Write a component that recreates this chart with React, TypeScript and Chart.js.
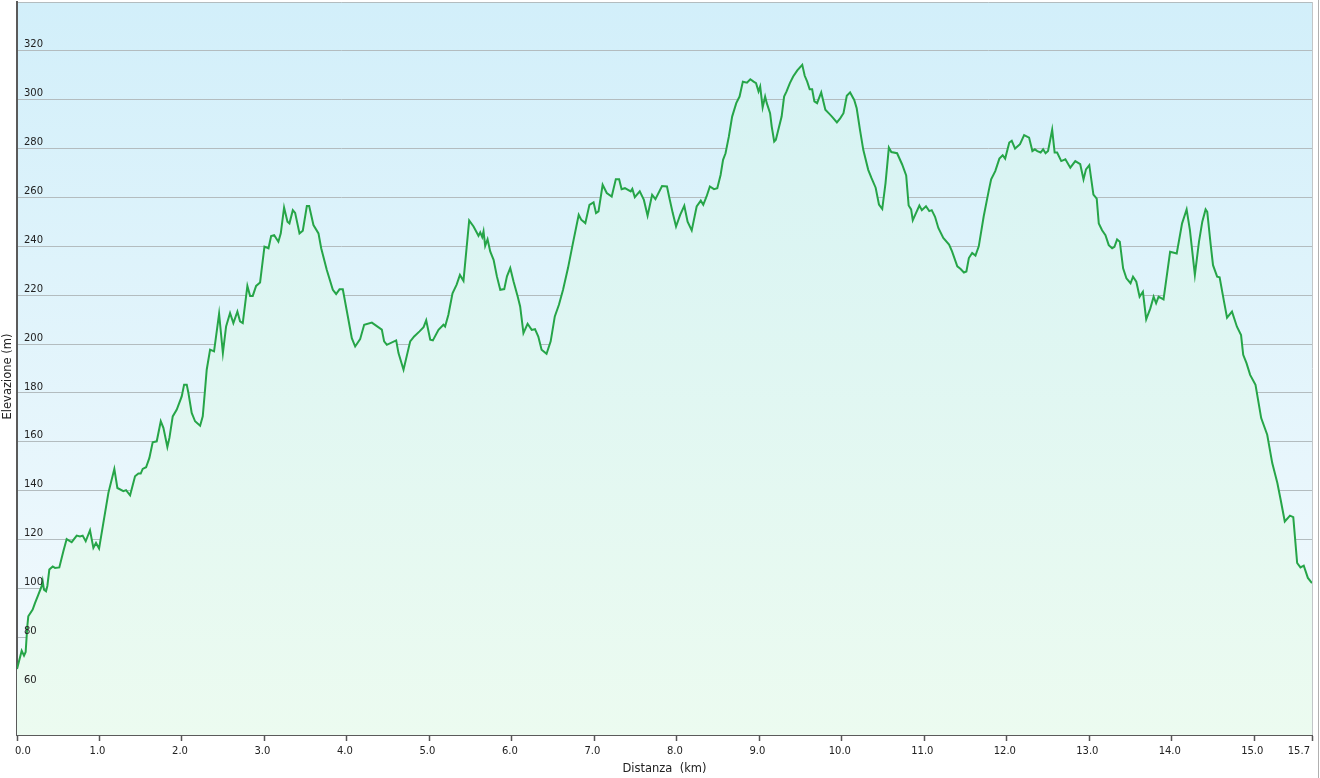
import React, { useEffect, useRef } from "react";
import { Chart, registerables } from "chart.js";

Chart.register(...registerables);

const distanceKm = [
  0, 0.057, 0.085, 0.105, 0.125, 0.137, 0.19, 0.218, 0.259, 0.299, 0.311, 0.327, 0.352, 0.368, 0.392, 0.433,
  0.461, 0.513, 0.562, 0.602, 0.663, 0.724, 0.764, 0.796, 0.833, 0.885, 0.926, 0.958, 0.995, 1.047, 1.108,
  1.18, 1.217, 1.29, 1.322, 1.371, 1.431, 1.472, 1.5, 1.524, 1.565, 1.605, 1.645, 1.694, 1.743, 1.775, 1.823,
  1.848, 1.888, 1.937, 1.997, 2.026, 2.058, 2.078, 2.118, 2.159, 2.22, 2.252, 2.28, 2.3,
  2.341, 2.389, 2.45, 2.496, 2.535, 2.583, 2.623, 2.672, 2.704, 2.737, 2.793, 2.826, 2.858, 2.899, 2.947,
  3.0, 3.049, 3.081, 3.118, 3.169, 3.198, 3.238, 3.279, 3.303, 3.344, 3.372, 3.425, 3.465, 3.514, 3.542,
  3.594, 3.655, 3.688, 3.756, 3.829, 3.869, 3.91, 3.95, 4.011, 4.059, 4.1, 4.16, 4.209, 4.302, 4.423, 4.451,
  4.484, 4.597, 4.625, 4.686, 4.767, 4.815, 4.88, 4.929, 4.961, 5.01, 5.042,
  5.11, 5.17, 5.19, 5.23, 5.28, 5.33, 5.37, 5.413, 5.482, 5.535, 5.595, 5.616, 5.64, 5.656, 5.676, 5.705,
  5.737, 5.778, 5.818, 5.859, 5.907, 5.94, 5.98, 6.02, 6.07, 6.1, 6.14, 6.19, 6.24, 6.28, 6.32, 6.36, 6.42,
  6.47, 6.52, 6.57, 6.62, 6.68, 6.74, 6.81, 6.84, 6.89, 6.94, 6.99, 7.02, 7.05, 7.1, 7.15, 7.21, 7.26, 7.3,
  7.33, 7.37, 7.44, 7.46, 7.49, 7.55, 7.6, 7.645, 7.7, 7.74,
  7.82, 7.88, 7.91, 7.95, 7.99, 8.04, 8.09, 8.13, 8.18, 8.24, 8.29, 8.32, 8.36, 8.4, 8.45, 8.49, 8.53, 8.56,
  8.59, 8.63, 8.67, 8.72, 8.76, 8.8, 8.85, 8.89, 8.93, 8.96, 8.99, 9.01, 9.04, 9.07, 9.09, 9.13, 9.15, 9.18,
  9.2, 9.23, 9.27, 9.3, 9.33, 9.37, 9.41, 9.46, 9.52, 9.55, 9.58, 9.61, 9.64, 9.667, 9.7, 9.75, 9.8, 9.84,
  9.88, 9.94, 9.98, 10.02, 10.06, 10.1, 10.15, 10.18, 10.22, 10.26, 10.32, 10.36,
  10.41, 10.45, 10.49, 10.53, 10.57, 10.6, 10.67, 10.73, 10.78, 10.81, 10.84, 10.86, 10.9, 10.94, 10.97,
  11.02, 11.06, 11.09, 11.13, 11.17, 11.23, 11.3, 11.335, 11.4, 11.44, 11.48, 11.51, 11.54, 11.58, 11.62,
  11.66, 11.72, 11.78, 11.81, 11.86, 11.91, 11.95, 11.98, 12.03, 12.06, 12.1, 12.16, 12.21, 12.27, 12.31,
  12.34, 12.37, 12.41, 12.44, 12.47, 12.5, 12.55, 12.58, 12.61, 12.66, 12.71, 12.77, 12.83, 12.89, 12.93,
  12.96, 13.0, 13.05, 13.09,
  13.115, 13.155, 13.196, 13.236, 13.277, 13.305, 13.337, 13.37, 13.41, 13.45, 13.5, 13.53, 13.57, 13.61,
  13.65, 13.69, 13.74, 13.78, 13.81, 13.84, 13.9, 13.98, 14.06, 14.125, 14.18, 14.22, 14.28, 14.33, 14.37,
  14.41, 14.43, 14.47, 14.5, 14.55, 14.58, 14.63, 14.67, 14.73, 14.79, 14.84, 14.866, 14.906, 14.95, 15.015,
  15.084, 15.157, 15.218, 15.28, 15.32, 15.37, 15.433, 15.473, 15.52, 15.56, 15.6, 15.65, 15.7,
];

const elevationM = [
  67, 74.5, 72.5, 74, 84.5, 88.6, 91.3, 94, 97.5, 100.9, 103, 99.5, 98.8, 101, 107.7, 109,
  108.4, 108.6, 115.2, 120.2, 118.9, 121.6, 121.3, 121.6, 119.3, 123.8, 116.6, 118.6, 116.3, 126.8, 139.1,
  148.9, 141.1, 139.8, 140.2, 138.1, 145.9, 147, 147, 148.9, 149.6, 153.4, 159.8, 160.2, 168.4, 165.7, 157.9,
  161.6, 170.4, 173.2, 178.6, 183.4, 183.4, 180, 171.8, 168.4, 166.6, 170.4, 181.4, 189.5,
  197.7, 197.0, 212.4, 196.3, 207.2, 212.7, 208.6, 213.3, 209.3, 208.6, 223.8, 219.7, 219.7, 223.8, 225.2,
  239.9, 239.2, 244.2, 244.6, 241.9, 245.3, 255.9, 250.1, 249.4, 254.8, 253.7, 245.3, 246.4, 256.5, 256.5,
  248.7, 245.3, 239.2, 230.3, 222.2, 220.5, 222.4, 222.4, 211.3, 202.4, 199.0, 202.0, 207.9, 208.8, 205.9, 201.1,
  199.7, 201.5, 196.3, 189.5, 201.1, 203.1, 205.2, 206.9, 209.7, 201.8, 201.5,
  205.8, 207.9, 207.2, 212.0, 220.8, 224.3, 228.3, 225.9, 250.6, 248.1, 244.3, 245.7, 243.8, 246.1, 240.2, 242.9,
  237.9, 234.5, 227.7, 222.2, 222.5, 227.7, 231.1, 225.6, 219.5, 215.4, 204.5, 208.3, 205.8, 206.1, 203.1, 197.7, 196.0,
  201.1, 211.3, 216.1, 222.2, 231.1, 241.3, 252.9, 250.9, 249.5, 257.0, 258.0, 253.6, 254.3, 265.2, 261.8, 260.4, 267.5, 267.5,
  263.4, 263.8, 262.5, 263.5, 260.1, 262.5, 259.0, 252.5, 261.1, 259.3,
  264.7, 264.5, 259.7, 253.6, 248.1, 252.9, 256.6, 250.1, 246.5, 256.3, 258.7, 257.0, 260.4, 264.5, 263.4, 263.8, 269.2, 275.4,
  278.1, 284.9, 293.1, 298.6, 301.3, 307.4, 307.0, 308.4, 307.4, 306.8, 303.4, 305.4, 296.9, 301.3, 298.6, 294.5, 289.0, 282.9,
  283.6, 287.7, 293.1, 301.3, 303.4, 306.8, 309.5, 312.0, 314.3, 309.8, 307.4, 304.3, 304.3, 299.3, 298.6, 303.0, 295.9, 294.5,
  293.1, 290.7, 292.4, 294.5, 301.6, 303.0, 299.9, 296.5, 287.7, 279.5, 271.3, 267.9,
  264.0, 257.1, 255.3, 266.0, 280.4, 278.6, 278.1, 273.6, 269.0, 256.7, 255.1, 250.7, 253.7, 256.7, 254.8,
  256.4, 254.4, 254.8, 252.1, 247.5, 243.4, 240.7, 238.0, 231.8, 230.7, 229.3, 229.7, 235.2, 237.3, 236.2,
  240.0, 252.3, 262.6, 267.4, 270.8, 275.9, 277.3, 275.9, 282.5, 283.2, 280.0, 281.8, 285.5, 284.5, 279.0,
  279.7, 279.0, 278.4, 279.7, 278.1, 279.0, 287.7, 278.4, 278.4, 274.9, 275.6, 272.2, 274.9, 273.6, 267.4,
  271.5, 273.2, 261.2, 259.5,
  249.4, 246.6, 244.6, 240.5, 239.2, 239.8, 242.8, 241.9, 231.0, 226.9, 224.9, 227.6, 225.5, 219.4,
  221.4, 210.1, 214.6, 219.4, 216.7, 219.4, 218.3, 237.8, 237.1, 249.4, 255.1, 246.6, 228.3, 241.9, 250.1,
  255.1, 254.1, 241.2, 232.3, 227.6, 227.3, 218.0, 210.8, 213.3, 207.1, 203.7, 195.6, 192.2, 187.4, 183.3,
  169.7, 162.9, 151.3, 143.1, 136.3, 127.4, 129.8, 129.2, 110.4, 108.6, 109.3, 104.3, 102.2,
];

const xTickValues = [0, 1, 2, 3, 4, 5, 6, 7, 8, 9, 10, 11, 12, 13, 14, 15, 15.7];
const yMin = 40;
const yMax = 340;
const yStep = 20;
const xTitle = "Distanza  (km)";
const yTitle = "Elevazione (m)";

const FAMILY = "'DejaVu Sans', Verdana, sans-serif";
const FONT = { family: FAMILY, size: 10 };
const TITLE_FONT = { family: FAMILY, size: 11.5 };

const bgPlugin = {
  id: "bgPlugin",
  beforeDraw(chart: any) {
    const { ctx, chartArea } = chart;
    if (!chartArea) return;
    const g = ctx.createLinearGradient(0, chartArea.top, 0, chartArea.bottom);
    g.addColorStop(0, "rgb(210,239,250)");
    g.addColorStop(1, "rgb(244,250,253)");
    ctx.save();
    ctx.fillStyle = g;
    ctx.fillRect(chartArea.left, chartArea.top, chartArea.right - chartArea.left, chartArea.bottom - chartArea.top);
    ctx.restore();
  },
  afterDraw(chart: any) {
    const { ctx, chartArea } = chart;
    ctx.save();
    ctx.strokeStyle = "#c2c6c8";
    ctx.lineWidth = 1;
    ctx.beginPath();
    ctx.moveTo(Math.round(chartArea.right) + 0.5, chartArea.top);
    ctx.lineTo(Math.round(chartArea.right) + 0.5, chartArea.bottom);
    ctx.stroke();
    ctx.strokeStyle = "#b0b0b0";
    ctx.beginPath();
    ctx.moveTo(1318.5, 0);
    ctx.lineTo(1318.5, 778);
    ctx.stroke();
    // y-axis title
    ctx.translate(8, 376.5);
    ctx.rotate(-Math.PI / 2);
    ctx.fillStyle = "#222";
    ctx.font = `${TITLE_FONT.size}px ${FAMILY}`;
    ctx.textAlign = "center";
    ctx.textBaseline = "middle";
    ctx.fillText(yTitle, 0, 0);
    ctx.restore();
  },
};

export default function App() {
  const ref = useRef<HTMLCanvasElement | null>(null);

  useEffect(() => {
    document.body.style.margin = "0";
    const canvas = ref.current;
    if (!canvas) return;
    const data = distanceKm.map((x, i) => ({ x, y: elevationM[i] }));
    const chart = new Chart(canvas, {
      type: "line",
      data: {
        datasets: [
          {
            data,
            borderColor: "#26a548",
            borderWidth: 2,
            pointRadius: 0,
            tension: 0,
            fill: "start",
            backgroundColor: (c: any) => {
              const area = c.chart.chartArea;
              if (!area) return "rgba(220,250,230,0.6)";
              const g = c.chart.ctx.createLinearGradient(0, area.top, 0, area.bottom);
              g.addColorStop(0, "rgb(212,242,244)");
              g.addColorStop(1, "rgb(236,251,240)");
              return g;
            },
          },
        ],
      },
      options: {
        responsive: false,
        animation: false,
        layout: { padding: { top: 2, right: 8, left: 0, bottom: 0 } },
        plugins: { legend: { display: false }, tooltip: { enabled: false } },
        scales: {
          x: {
            type: "linear",
            min: 0,
            max: 15.7,
            afterBuildTicks: (s: any) => {
              s.ticks = xTickValues.map((v) => ({ value: v }));
            },
            afterFit: (s: any) => {
              s.height = 43;
              s.paddingLeft = 0;
              s.paddingRight = 0;
            },
            ticks: {
              autoSkip: false,
              maxRotation: 0,
              align: "inner",
              labelOffset: -2,
              font: FONT,
              color: "#222",
              padding: 4,
              callback: (v: any) => Number(v).toFixed(1),
            },
            grid: {
              drawOnChartArea: false,
              drawTicks: true,
              tickLength: 6,
              tickColor: "#555",
              tickWidth: 1.5,
            },
            border: { display: true, color: "#5a5a5a", width: 2 },
            title: {
              display: true,
              text: xTitle,
              font: TITLE_FONT,
              color: "#222",
              padding: { top: 2, bottom: 2 },
            },
          },
          y: {
            type: "linear",
            min: yMin,
            max: yMax,
            afterFit: (s: any) => {
              s.width = 17;
              s.paddingTop = 0;
              s.paddingBottom = 0;
            },
            ticks: {
              stepSize: yStep,
              mirror: true,
              padding: 7,
              labelOffset: -6,
              z: 1,
              font: FONT,
              color: "#222",
              callback: (v: any) => (v === yMin || v === yMax ? "" : String(v)),
            },
            grid: {
              drawTicks: false,
              color: "#b3bcbf",
              lineWidth: 1,
            },
            border: { display: true, color: "#5a5a5a", width: 2 },
            title: { display: false },
          },
        },
      },
      plugins: [bgPlugin],
    } as any);
    return () => chart.destroy();
  }, []);

  return (
    <div style={{ width: 1320, height: 778, position: "absolute", left: 0, top: 0 }}>
      <canvas ref={ref} width={1320} height={778} style={{ width: 1320, height: 778, display: "block" }} />
    </div>
  );
}
